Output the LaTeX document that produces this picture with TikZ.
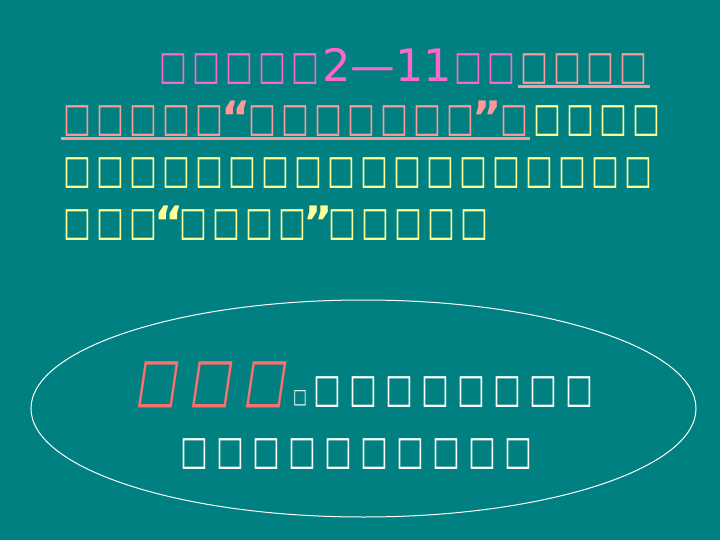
\documentclass[tikz,border=0pt]{standalone}
\usepackage{fontspec}
\usepackage{graphicx}
\setmainfont{DejaVu Sans}
\newfontfamily\boxfont{DejaVu Sans}
\newfontfamily\boxslantfont[FakeSlant=0.2]{DejaVu Sans}

\definecolor{slide}{HTML}{008080}
\definecolor{magtext}{HTML}{FF66CC}
\definecolor{saltext}{HTML}{FF9999}
\definecolor{yeltext}{HTML}{FFFF99}
\definecolor{redtext}{HTML}{FF6F6F}

% a glyph the slide shows as an empty box, in a cell of fixed width
\newcommand{\bxsx}{0.66}
\newcommand{\bxsy}{0.9}
\newcommand{\bx}[1][33pt]{\makebox[#1]{\raisebox{0.06em}{\scalebox{\bxsx}[\bxsy]{\boxfont □}}}}
\newcommand{\bxi}[1][54pt]{\makebox[#1]{\raisebox{0.06em}{\scalebox{\bxsx}[\bxsy]{\boxslantfont □}}}}
\newcommand{\bxs}[2][33pt]{\foreach \i in {1,...,#2}{\bx[#1]}}
\newcommand{\qt}[2][20.2pt]{\makebox[#1]{\bfseries#2}}

\begin{document}
\begin{tikzpicture} [x=1pt, y=-1pt]
\tikzset{every node/.style={inner sep=0pt, anchor=base west}, txt/.style={font=\fontsize{44.7}{52}\selectfont}}
\fill[slide] (0,0) rectangle (720,540);

\node[txt] (l1) at (157,82) {\color{magtext}\bxs{5}2—11\bxs{2}\color{saltext}\bxs{4}};
\node[txt] (l2) at (61,134) {\color{saltext}\bxs{5}\qt{“}\bxs{7}\qt{”}\bx\color{yeltext}\bxs{4}};
\node[txt] (l3) at (61,186) {\color{yeltext}\bxs{18}};
\node[txt] (l4) at (61,238) {\color{yeltext}\bxs{3}\qt[17pt]{“}\bxs{4}\qt[17pt]{”}\bxs{5}};

\draw[saltext, line width=2.7pt] (518,86.3) -- (650,86.3);
\draw[saltext, line width=2.7pt] (61,138.3) -- (530,138.3);

\draw[white, line width=1pt] (363.5,408.5) ellipse [x radius=332.5, y radius=108.5];

\node[txt] (e1) at (129,405) {{\fontsize{67}{78}\selectfont\color{redtext}\bxi\bxi\bxi}{\fontsize{22.3}{26}\selectfont\color{white}\bx[18pt]}{\color{white}\bxs[36pt]{8}}};
\node[txt] (e2) at (175.8,467) {\color{white}\bxs[36pt]{10}};
\end{tikzpicture}
\end{document}
